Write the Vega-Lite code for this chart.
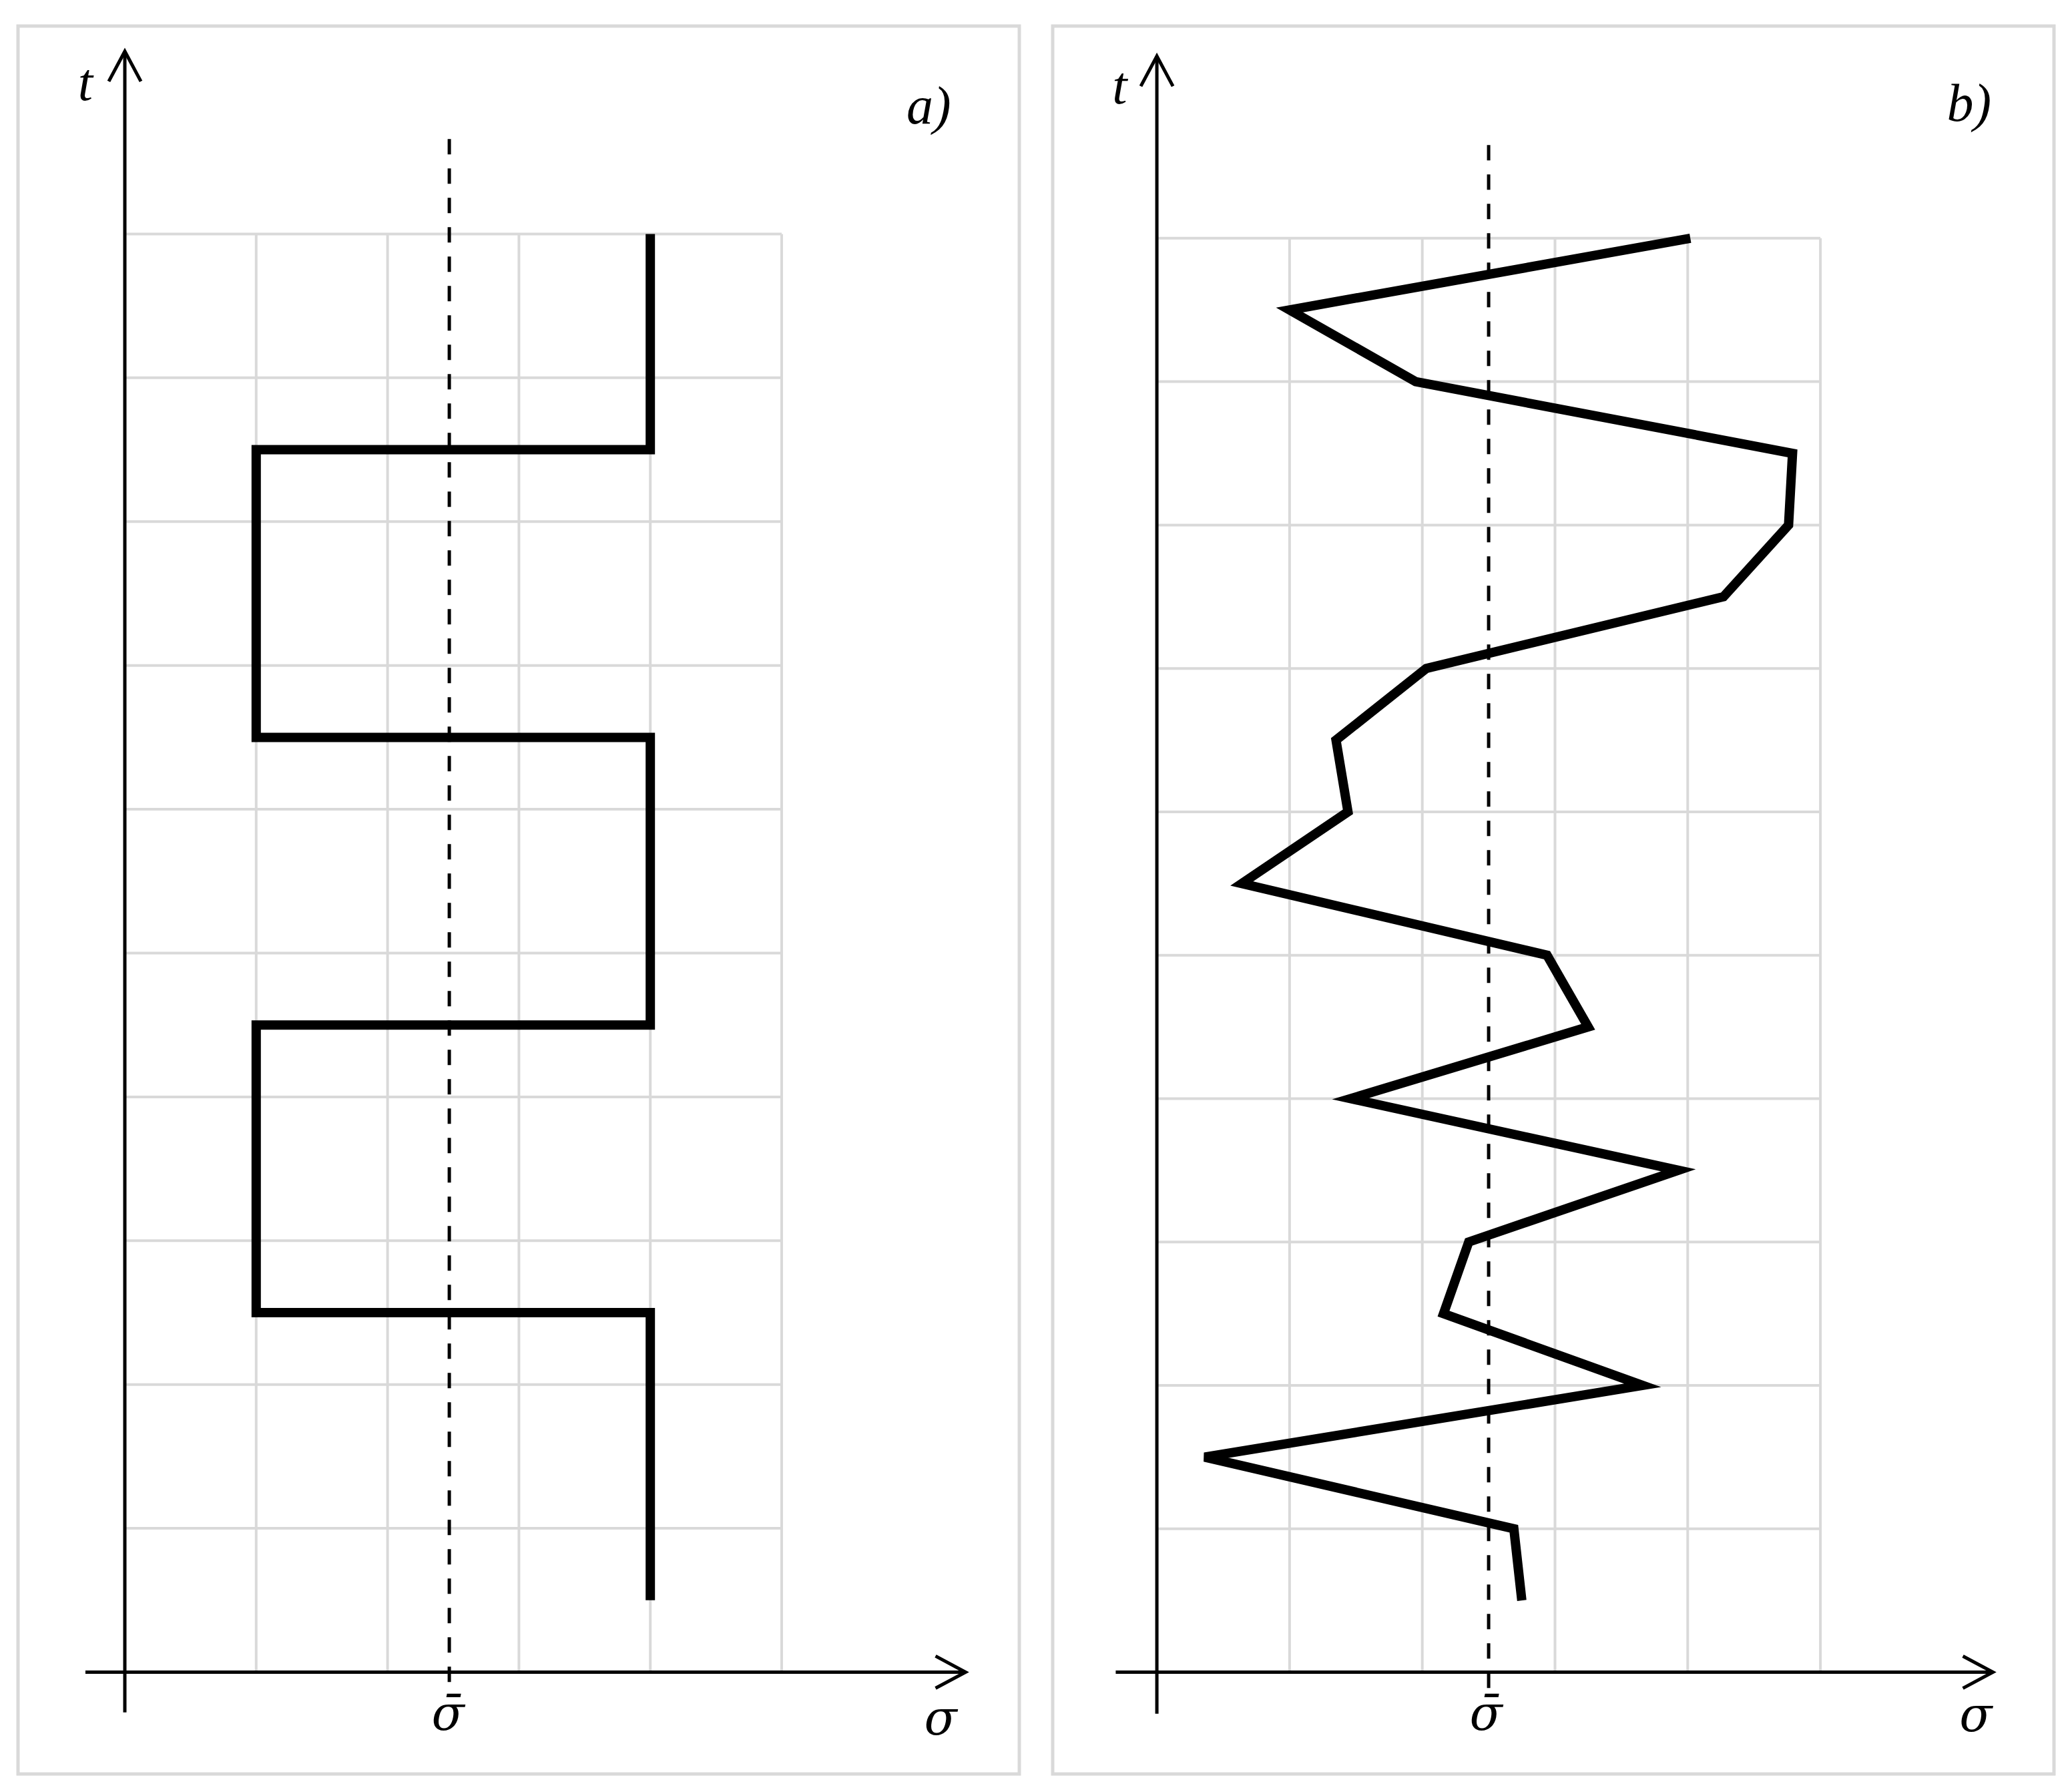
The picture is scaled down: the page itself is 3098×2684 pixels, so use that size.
{
  "$schema": "https://vega.github.io/schema/vega-lite/v6.json",
  "padding": {"left": 24, "top": 36, "right": 0, "bottom": 0},
  "background": "white",
  "config": {"view": {"stroke": "#d9d9d9", "strokeWidth": 5}},
  "spacing": 44,
  "datasets": {
    "grid": [
      {"s": 1, "s2": 1, "t": 0, "t2": 10},
      {"s": 2, "s2": 2, "t": 0, "t2": 10},
      {"s": 3, "s2": 3, "t": 0, "t2": 10},
      {"s": 4, "s2": 4, "t": 0, "t2": 10},
      {"s": 5, "s2": 5, "t": 0, "t2": 10},
      {"s": 0, "s2": 5, "t": 1, "t2": 1},
      {"s": 0, "s2": 5, "t": 2, "t2": 2},
      {"s": 0, "s2": 5, "t": 3, "t2": 3},
      {"s": 0, "s2": 5, "t": 4, "t2": 4},
      {"s": 0, "s2": 5, "t": 5, "t2": 5},
      {"s": 0, "s2": 5, "t": 6, "t2": 6},
      {"s": 0, "s2": 5, "t": 7, "t2": 7},
      {"s": 0, "s2": 5, "t": 8, "t2": 8},
      {"s": 0, "s2": 5, "t": 9, "t2": 9},
      {"s": 0, "s2": 5, "t": 10, "t2": 10}
    ],
    "dashA": [{"s": 2.47, "s2": 2.47, "t": 10.66, "t2": -0.14}],
    "dashB": [{"s": 2.5, "s2": 2.5, "t": 10.65, "t2": -0.14}],
    "axesA": [
      {"s": 0, "s2": 0, "t": -0.28, "t2": 11.27},
      {"s": -0.3, "s2": 6.4, "t": 0, "t2": 0}
    ],
    "axesB": [
      {"s": 0, "s2": 0, "t": -0.29, "t2": 11.27},
      {"s": -0.31, "s2": 6.3, "t": 0, "t2": 0}
    ],
    "upA": [{"s": 0, "t": 11.27}],
    "rightA": [{"s": 6.4, "t": 0}],
    "upB": [{"s": 0, "t": 11.27}],
    "rightB": [{"s": 6.3, "t": 0}],
    "waveA": [
      {"i": 0, "s": 4, "t": 0.5},
      {"i": 1, "s": 4, "t": 2.5},
      {"i": 2, "s": 1, "t": 2.5},
      {"i": 3, "s": 1, "t": 4.5},
      {"i": 4, "s": 4, "t": 4.5},
      {"i": 5, "s": 4, "t": 6.5},
      {"i": 6, "s": 1, "t": 6.5},
      {"i": 7, "s": 1, "t": 8.5},
      {"i": 8, "s": 4, "t": 8.5},
      {"i": 9, "s": 4, "t": 10}
    ],
    "waveB": [
      {"i": 0, "s": 2.75, "t": 0.5},
      {"i": 1, "s": 2.69, "t": 1.0},
      {"i": 2, "s": 0.36, "t": 1.5},
      {"i": 3, "s": 3.66, "t": 2.0},
      {"i": 4, "s": 2.16, "t": 2.5},
      {"i": 5, "s": 2.35, "t": 3.0},
      {"i": 6, "s": 3.93, "t": 3.5},
      {"i": 7, "s": 1.46, "t": 4.0},
      {"i": 8, "s": 3.25, "t": 4.5},
      {"i": 9, "s": 2.94, "t": 5.0},
      {"i": 10, "s": 0.64, "t": 5.5},
      {"i": 11, "s": 1.44, "t": 6.0},
      {"i": 12, "s": 1.35, "t": 6.5},
      {"i": 13, "s": 2.03, "t": 7.0},
      {"i": 14, "s": 4.27, "t": 7.5},
      {"i": 15, "s": 4.76, "t": 8.0},
      {"i": 16, "s": 4.79, "t": 8.5},
      {"i": 17, "s": 1.95, "t": 9.0},
      {"i": 18, "s": 1.0, "t": 9.5},
      {"i": 19, "s": 4.02, "t": 10.0}
    ],
    "textA": [
      {"s": -0.3, "t": 11.04, "label": "t"},
      {"s": 6.12, "t": 10.88, "label": "a)"}
    ],
    "sigA": [
      {"s": 2.46, "t": -0.3, "label": "σ̄"},
      {"s": 6.21, "t": -0.33, "label": "σ"}
    ],
    "textB": [
      {"s": -0.28, "t": 11.05, "label": "t"},
      {"s": 6.12, "t": 10.93, "label": "b)"}
    ],
    "sigB": [
      {"s": 2.48, "t": -0.3, "label": "σ̄"},
      {"s": 6.17, "t": -0.31, "label": "σ"}
    ]
  },
  "hconcat": [
    {
      "width": 1500,
      "height": 2618,
      "encoding": {
        "x": {"field": "s", "type": "quantitative", "scale": {"domain": [-0.813, 6.809], "nice": false, "zero": false}, "axis": null},
        "y": {"field": "t", "type": "quantitative", "scale": {"domain": [-0.708, 11.446], "nice": false, "zero": false}, "axis": null}
      },
      "layer": [
        {"data": {"name": "grid"}, "mark": {"type": "rule", "color": "#d9d9d9", "strokeWidth": 4}, "encoding": {"x2": {"field": "s2"}, "y2": {"field": "t2"}}},
        {"data": {"name": "dashA"}, "mark": {"type": "rule", "color": "black", "strokeWidth": 5, "strokeDash": [23, 21]}, "encoding": {"x2": {"field": "s2"}, "y2": {"field": "t2"}}},
        {"data": {"name": "waveA"}, "mark": {"type": "line", "color": "black", "strokeWidth": 14, "strokeJoin": "miter"}, "encoding": {"order": {"field": "i", "type": "quantitative"}}},
        {"data": {"name": "axesA"}, "mark": {"type": "rule", "color": "black", "strokeWidth": 5}, "encoding": {"x2": {"field": "s2"}, "y2": {"field": "t2"}}},
        {"data": {"name": "upA"}, "mark": {"type": "point", "shape": "M-1.07,2L0,0L1.07,2", "filled": false, "size": 2025, "strokeWidth": 5, "color": "black", "opacity": 1}},
        {"data": {"name": "rightA"}, "mark": {"type": "point", "shape": "M-1.07,2L0,0L1.07,2", "filled": false, "size": 2025, "strokeWidth": 5, "color": "black", "opacity": 1, "angle": 90}},
        {"data": {"name": "textA"}, "mark": {"type": "text", "font": "Liberation Serif", "fontStyle": "italic", "fontSize": 80, "align": "center", "baseline": "middle", "color": "black"}, "encoding": {"text": {"field": "label"}}},
        {"data": {"name": "sigA"}, "mark": {"type": "text", "font": "DejaVu Serif", "fontStyle": "italic", "fontSize": 72, "align": "center", "baseline": "middle", "color": "black"}, "encoding": {"text": {"field": "label"}}}
      ]
    },
    {
      "width": 1500,
      "height": 2618,
      "encoding": {
        "x": {"field": "s", "type": "quantitative", "scale": {"domain": [-0.785, 6.76], "nice": false, "zero": false}, "axis": null},
        "y": {"field": "t", "type": "quantitative", "scale": {"domain": [-0.71, 11.48], "nice": false, "zero": false}, "axis": null}
      },
      "layer": [
        {"data": {"name": "grid"}, "mark": {"type": "rule", "color": "#d9d9d9", "strokeWidth": 4}, "encoding": {"x2": {"field": "s2"}, "y2": {"field": "t2"}}},
        {"data": {"name": "dashB"}, "mark": {"type": "rule", "color": "black", "strokeWidth": 5, "strokeDash": [23, 21]}, "encoding": {"x2": {"field": "s2"}, "y2": {"field": "t2"}}},
        {"data": {"name": "waveB"}, "mark": {"type": "line", "color": "black", "strokeWidth": 14, "strokeJoin": "miter"}, "encoding": {"order": {"field": "i", "type": "quantitative"}}},
        {"data": {"name": "axesB"}, "mark": {"type": "rule", "color": "black", "strokeWidth": 5}, "encoding": {"x2": {"field": "s2"}, "y2": {"field": "t2"}}},
        {"data": {"name": "upB"}, "mark": {"type": "point", "shape": "M-1.07,2L0,0L1.07,2", "filled": false, "size": 2025, "strokeWidth": 5, "color": "black", "opacity": 1}},
        {"data": {"name": "rightB"}, "mark": {"type": "point", "shape": "M-1.07,2L0,0L1.07,2", "filled": false, "size": 2025, "strokeWidth": 5, "color": "black", "opacity": 1, "angle": 90}},
        {"data": {"name": "textB"}, "mark": {"type": "text", "font": "Liberation Serif", "fontStyle": "italic", "fontSize": 80, "align": "center", "baseline": "middle", "color": "black"}, "encoding": {"text": {"field": "label"}}},
        {"data": {"name": "sigB"}, "mark": {"type": "text", "font": "DejaVu Serif", "fontStyle": "italic", "fontSize": 72, "align": "center", "baseline": "middle", "color": "black"}, "encoding": {"text": {"field": "label"}}}
      ]
    }
  ]
}
